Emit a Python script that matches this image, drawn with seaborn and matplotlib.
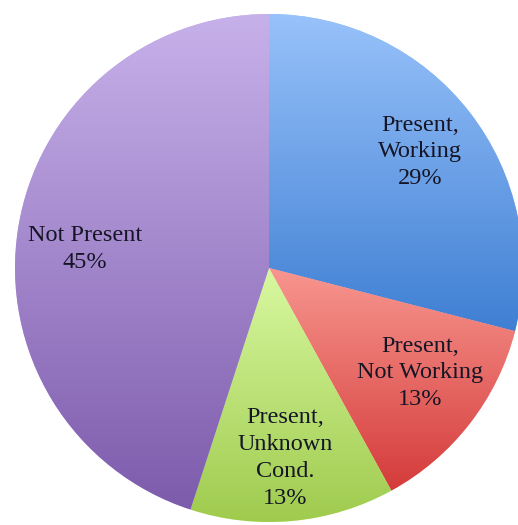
import numpy as np
import matplotlib
matplotlib.use("Agg")
import matplotlib.pyplot as plt
import seaborn as sns
from matplotlib.colors import LinearSegmentedColormap

categories = ["Present,\nWorking", "Present,\nNot Working", "Present,\nUnknown\nCond.", "Not Present"]
values = [29, 13, 13, 45]
top_colors = ["#98c2fa", "#f8968f", "#d8f8a0", "#c7b1ea"]
bottom_colors = ["#3f7fd3", "#d43b3a", "#9fcb4e", "#7d5bac"]

sns.set_theme(style="white")
plt.rcParams['font.family'] = ['Liberation Serif', 'DejaVu Serif']

fig = plt.figure(figsize=(5.18, 5.25), dpi=100)
ax = fig.add_axes([0, 0, 1, 1])

wedges, texts = ax.pie(values, startangle=90, counterclock=False,
                       colors=top_colors, radius=1.0,
                       labels=[f"{c}\n{v}%" for c, v in zip(categories, values)],
                       labeldistance=0.75,
                       wedgeprops=dict(linewidth=0),
                       textprops=dict(fontsize=17.5, color="#151525",
                                      linespacing=1.36))

# label anchor positions (layout, in pie radius units)
label_pos = [(0.594, 0.457), (0.594, -0.413), (0.063, -0.748), (-0.724, 0.075)]
for t, p in zip(texts, label_pos):
    t.set_ha("center")
    t.set_va("center")
    t.set_position(p)
    t.set_zorder(3)

for w, c0, c1 in zip(wedges, top_colors, bottom_colors):
    ext = w.get_path().get_extents()
    cmap = LinearSegmentedColormap.from_list("g", [c1, c0])
    grad = np.linspace(0, 1, 256).reshape(-1, 1)
    im = ax.imshow(grad, cmap=cmap, origin="lower", aspect="auto",
                   extent=[ext.x0, ext.x1, ext.y0, ext.y1], zorder=1.5,
                   interpolation="bilinear")
    im.set_clip_path(w)

cx, cy, r = 269, 268, 254
W, H = 518, 525
ax.set_aspect("auto")
ax.set_xlim(-cx / r, (W - cx) / r)
ax.set_ylim(-(H - cy) / r, cy / r)
ax.axis("off")

fig.savefig("out.png", dpi=100, facecolor="white")
